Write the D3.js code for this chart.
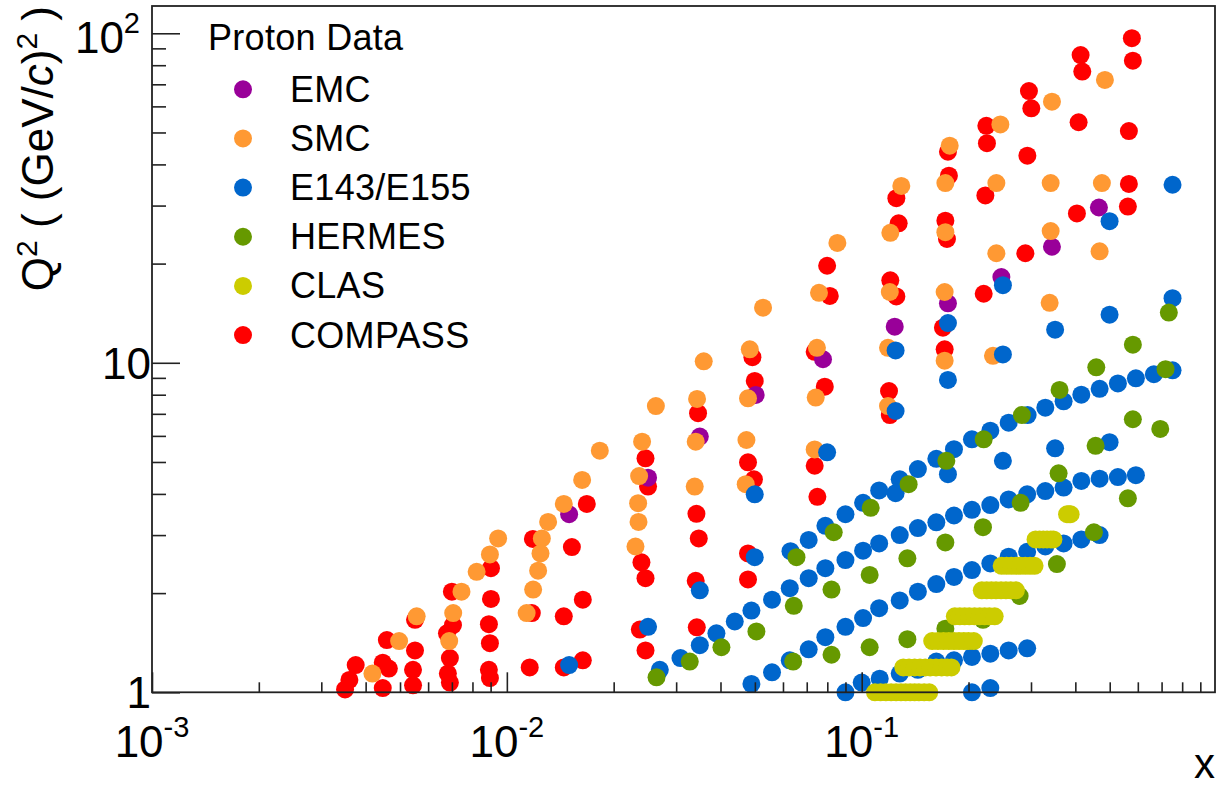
<!DOCTYPE html>
<html><head><meta charset="utf-8">
<script src="https://cdn.jsdelivr.net/npm/d3@7"></script>
<style>
body{margin:0;background:#fff}
svg{display:block}
text{font-family:"Liberation Sans",Arial,Helvetica,sans-serif;fill:#000;white-space:pre}
</style>
</head><body>
<svg id="chart" width="1218" height="788"></svg>
<script>
// ---------------- data (x, Q^2) ----------------
const seriesNames = ["EMC", "SMC", "E143/E155", "HERMES", "CLAS", "COMPASS"];

const emc = [[0.01498,3.47],[0.025,4.48],[0.03498,5.97],[0.05027,7.99],[0.0778,10.25],[0.1239,12.87],
  [0.175,15.15],[0.2475,18.2],[0.3437,22.5],[0.4661,29.6]];

const smc = [[0.00418,1.14],[0.00497,1.43],[0.00557,1.70],[0.00745,2.02],[0.00706,1.74],[0.00688,1.43],
  [0.00822,2.32],[0.00896,2.62],[0.00945,2.93],[0.01255,2.93],[0.01244,2.64],[0.01225,2.34],[0.01186,2.05],
  [0.01137,1.74],[0.01447,3.73],[0.01307,3.29],[0.0163,4.41],[0.01828,5.41],[0.0263,7.39],[0.02405,5.76],
  [0.02359,4.53],[0.02344,3.75],[0.0235,3.29],[0.02304,2.77],[0.03588,10.1],[0.03436,7.77],[0.03406,5.76],
  [0.03384,4.21],[0.05272,14.7],[0.04837,10.99],[0.04782,7.80],[0.04733,5.83],[0.04711,4.28],[0.0854,23.1],
  [0.0758,16.3],[0.0748,11.1],[0.0742,7.84],[0.0737,5.46],[0.1293,34.4],[0.1204,24.8],[0.12,16.4],[0.1186,11.1],
  [0.1186,7.39],[0.177,45.6],[0.1721,35.1],[0.1721,24.9],[0.1713,16.4],[0.1713,10.15],[0.2459,52.9],[0.2396,35.1],
  [0.2396,21.5],[0.2344,10.5],[0.3437,62.0],[0.3408,35.1],[0.3408,25.1],[0.3386,15.2],[0.4846,72.2],[0.4752,35.1],
  [0.4682,21.8]];

const e143 = [
  [0.01498,1.21],[0.025,1.58],[0.03498,2.04],[0.04995,2.57],[0.04995,3.99],[0.0799,5.35],[0.1246,4.02],
  [0.1246,7.14],[0.1246,10.9],[0.175,4.59],[0.175,8.87],[0.175,13.2],[0.25,5.04],[0.25,10.6],[0.25,17.2],
  [0.3508,5.50],[0.3508,12.6],[0.4995,5.74],[0.4995,14.0],[0.4995,26.9],[0.7516,15.7],[0.7516,34.7],
  [0.063,2.68],[0.0709,2.90],[0.079,3.20],[0.09,3.47],[0.1009,3.76],[0.112,4.10],[0.128,4.43],[0.144,4.76],
  [0.1623,5.11],[0.182,5.47],[0.2045,5.86],[0.2304,6.22],[0.2595,6.58],[0.2935,6.94],[0.3292,7.31],[0.3707,7.64],
  [0.4158,8.00],[0.4682,8.34],[0.5272,8.66],[0.5925,8.97],[0.6659,9.23],[0.7516,9.49],
  [0.02698,1.17],[0.03085,1.27],[0.03498,1.39],[0.03896,1.51],[0.04388,1.64],[0.04889,1.77],[0.05588,1.91],
  [0.0627,2.07],[0.0709,2.22],[0.079,2.38],[0.09,2.52],[0.1009,2.69],[0.112,2.83],[0.128,3.00],[0.144,3.15],
  [0.1623,3.28],[0.182,3.44],[0.2045,3.58],[0.2304,3.70],[0.2595,3.85],[0.2926,3.99],[0.3292,4.08],[0.3707,4.18],
  [0.4158,4.38],[0.4682,4.45],[0.5272,4.50],[0.5925,4.56],
  [0.04889,1.06],[0.05588,1.15],[0.0627,1.25],[0.0709,1.35],[0.079,1.47],[0.09,1.58],[0.1009,1.68],[0.112,1.80],
  [0.128,1.90],[0.144,2.02],[0.1623,2.13],[0.182,2.24],[0.2045,2.35],[0.2304,2.46],[0.2595,2.58],[0.2926,2.67],
  [0.3292,2.77],[0.3707,2.83],[0.4158,2.91],[0.4682,3.00],
  [0.09,1.00],[0.1,1.07],[0.1124,1.10],[0.128,1.14],[0.144,1.17],[0.1623,1.24],[0.182,1.25],[0.2045,1.28],
  [0.2304,1.31],[0.2595,1.34],[0.2926,1.36],[0.2045,1.00],[0.2304,1.03]];

const hermes = [
  [0.02641,1.11],[0.03277,1.24],[0.04024,1.37],[0.0505,1.53],[0.06436,1.83],[0.0822,2.05],[0.1053,2.27],
  [0.1345,2.55],[0.1721,2.85],[0.2197,3.17],[0.2805,3.76],[0.3588,4.62],[0.4562,5.60],[0.581,6.74],[0.694,6.30],
  [0.0641,1.24],[0.0822,1.30],[0.1053,1.37],[0.1345,1.45],[0.1721,1.56],[0.2197,1.66],[0.2787,1.96],
  [0.3549,2.45],[0.4512,3.06],[0.5625,3.88],
  [0.06549,2.57],[0.0834,3.06],[0.106,3.63],[0.1356,4.28],[0.1732,5.04],[0.2207,5.86],[0.2828,6.94],
  [0.3611,8.27],[0.4582,9.69],[0.581,11.35],[0.7337,14.2],[0.7182,9.56]];

const clasQ2 = [1.00, 1.19, 1.43, 1.70, 2.04, 2.42, 2.91, 3.47];
const clasX = [
  [0.109,0.113,0.117,0.121,0.125,0.129,0.133,0.137,0.141,0.145,0.150,0.155],
  [0.131,0.136,0.141,0.146,0.151,0.156,0.162,0.168,0.174,0.179],
  [0.158,0.164,0.170,0.176,0.182,0.188,0.194,0.200,0.207],
  [0.183,0.189,0.195,0.201,0.208,0.215,0.222,0.229,0.237],
  [0.218,0.225,0.232,0.239,0.247,0.255,0.263,0.272],
  [0.248,0.256,0.264,0.272,0.280,0.289,0.298,0.307],
  [0.309,0.317,0.325,0.333,0.341,0.347],
  [0.379,0.384,0.388]];

const compass = [
  [0.0035,1.02],[0.0036,1.09],[0.00375,1.21],
  [0.00447,1.03],[0.00447,1.23],[0.00465,1.18],[0.00459,1.44],
  [0.00551,1.34],[0.00544,1.17],[0.00544,1.05],[0.00551,1.66],
  [0.0070,2.02],[0.00705,1.60],[0.00678,1.51],[0.00691,1.27],[0.00682,1.14],[0.00691,1.07],
  [0.00902,2.38],[0.00902,1.92],[0.0089,1.61],[0.00896,1.41],[0.0089,1.17],[0.00896,1.105],
  [0.01184,2.92],[0.01176,1.74],[0.0116,1.19],
  [0.01447,1.19],[0.01637,1.25],[0.01447,1.70],[0.01637,1.91],[0.01525,2.76],[0.0168,3.73],
  [0.02459,5.13],[0.025,4.21],[0.02395,2.48],[0.02459,2.22],[0.0237,1.55],[0.02459,1.34],
  [0.03458,7.03],[0.03422,3.48],[0.03474,2.93],[0.03406,2.18],[0.0343,1.575],
  [0.04921,10.4],[0.04995,8.81],[0.04782,4.99],[0.0497,4.43],[0.04782,2.64],[0.04782,2.20],
  [0.0799,19.7],[0.0813,15.95],[0.0787,8.46],[0.0737,4.87],[0.075,3.92],[0.0737,10.8],
  [0.1252,31.6],[0.1271,26.5],[0.1204,17.8],[0.1252,15.9],[0.1194,8.21],[0.12,6.94],
  [0.175,43.7],[0.1761,36.97],[0.1721,27.0],[0.1739,23.75],[0.1694,12.78],[0.1713,10.99],
  [0.2245,52.4],[0.2254,46.4],[0.2231,32.2],[0.2207,16.2],
  [0.296,66.8],[0.3006,59.2],[0.293,42.5],[0.2892,21.5],
  [0.4139,85.9],[0.4184,76.5],[0.4086,53.7],[0.4041,28.4],
  [0.5773,96.6],[0.581,82.6],[0.5662,50.5],[0.5662,34.9],[0.5625,29.8]];

const xMajorTicks = [1e-3, 1e-2, 1e-1];
const xTickLabels = [["10","-3"],["10","-2"],["10","-1"]];
const yMajorTicks = [1, 10, 100];
const yTickLabels = [["1",""],["10",""],["10","2"]];

// ---------------- styling ----------------
const colors = {"EMC":"#990099","SMC":"#ff9933","E143/E155":"#0066cc","HERMES":"#669900","CLAS":"#cccc00","COMPASS":"#ff0000"};
const clas = [];
clasQ2.forEach((q, i) => clasX[i].forEach(x => clas.push([x, q])));
const dataBy = {"EMC":emc,"SMC":smc,"E143/E155":e143,"HERMES":hermes,"CLAS":clas,"COMPASS":compass};
const drawOrder = ["COMPASS","EMC","SMC","E143/E155","HERMES","CLAS"];

const L = 152, R = 1215, T = 6, B = 692.3;
const x = d3.scaleLog().domain([1e-3, 0.99]).range([L, R]);
const y = d3.scaleLog().domain([1, 121]).range([B, T]);
const svg = d3.select("#chart");
const R_MARK = 9;

// points
drawOrder.forEach(name => {
  svg.append("g").selectAll("circle").data(dataBy[name]).join("circle")
    .attr("cx", d => x(d[0])).attr("cy", d => y(d[1])).attr("r", R_MARK)
    .attr("fill", colors[name]);
});

// minor ticks
const xMinor = [];
xMajorTicks.forEach(d => { for (let k = 2; k <= 9; k++) if (d*k <= 0.99) xMinor.push(d*k); });
const yMinor = [];
[1, 10].forEach(d => { for (let k = 2; k <= 9; k++) yMinor.push(d*k); });

function styleAxis(g){
  g.select(".domain").remove();
  g.selectAll("line").attr("stroke","#222").attr("stroke-width",1.6);
  g.selectAll("text").remove();
}
svg.append("g").attr("transform",`translate(0,${B})`)
  .call(d3.axisBottom(x).tickValues(xMajorTicks).tickSize(-20).tickFormat("")).call(styleAxis);
svg.append("g").attr("transform",`translate(0,${B})`)
  .call(d3.axisBottom(x).tickValues(xMinor).tickSize(-10).tickFormat("")).call(styleAxis);
svg.append("g").attr("transform",`translate(${L},0)`)
  .call(d3.axisLeft(y).tickValues(yMajorTicks).tickSize(-28).tickFormat("")).call(styleAxis);
svg.append("g").attr("transform",`translate(${L},0)`)
  .call(d3.axisLeft(y).tickValues(yMinor).tickSize(-14).tickFormat("")).call(styleAxis);

// frame
svg.append("rect").attr("x",L).attr("y",T).attr("width",R-L).attr("height",B-T)
  .attr("fill","none").attr("stroke","#222").attr("stroke-width",1.8);

// x tick labels
xMajorTicks.forEach((v, i) => {
  const t = svg.append("text").attr("x", x(v)).attr("y", 757).attr("text-anchor","middle")
    .style("font-size","44px");
  t.append("tspan").text(xTickLabels[i][0]);
  t.append("tspan").attr("dy",-20).style("font-size","29px").text(xTickLabels[i][1]);
});
// y tick labels
yMajorTicks.forEach((v, i) => {
  const hasSup = yTickLabels[i][1] !== "";
  const t = svg.append("text").attr("x", hasSup ? 140 : 151).attr("y", y(v) + (hasSup ? 20 : 16))
    .attr("text-anchor","end").style("font-size","44px");
  t.append("tspan").text(yTickLabels[i][0]);
  if (hasSup) t.append("tspan").attr("dy",-20).style("font-size","29px").text(yTickLabels[i][1]);
});

// axis titles
svg.append("text").attr("x",1215).attr("y",778).attr("text-anchor","end")
  .style("font-size","42px").text("x");
const yt = svg.append("text").attr("transform","translate(53,6) rotate(-90)")
  .attr("text-anchor","end").style("font-size","44px");
yt.append("tspan").text("Q");
yt.append("tspan").attr("dy",-16).style("font-size","30px").text("2");
yt.append("tspan").attr("dy",16).text(" ( (GeV/");
yt.append("tspan").style("font-style","italic").text("c");
yt.append("tspan").text(")");
yt.append("tspan").attr("dy",-16).style("font-size","30px").text("2");
yt.append("tspan").attr("dy",16).text(" )");

// legend
svg.append("text").attr("x",208).attr("y",50).style("font-size","36px")
  .style("letter-spacing","0.3px").text("Proton Data");
seriesNames.forEach((name, i) => {
  const cy = 89.3 + 49.15 * i;
  svg.append("circle").attr("cx",243).attr("cy",cy).attr("r",R_MARK).attr("fill",colors[name]);
  svg.append("text").attr("x",290).attr("y",cy + 12.5).style("font-size","36px")
    .style("letter-spacing","0.3px").text(name);
});
</script>
</body></html>
